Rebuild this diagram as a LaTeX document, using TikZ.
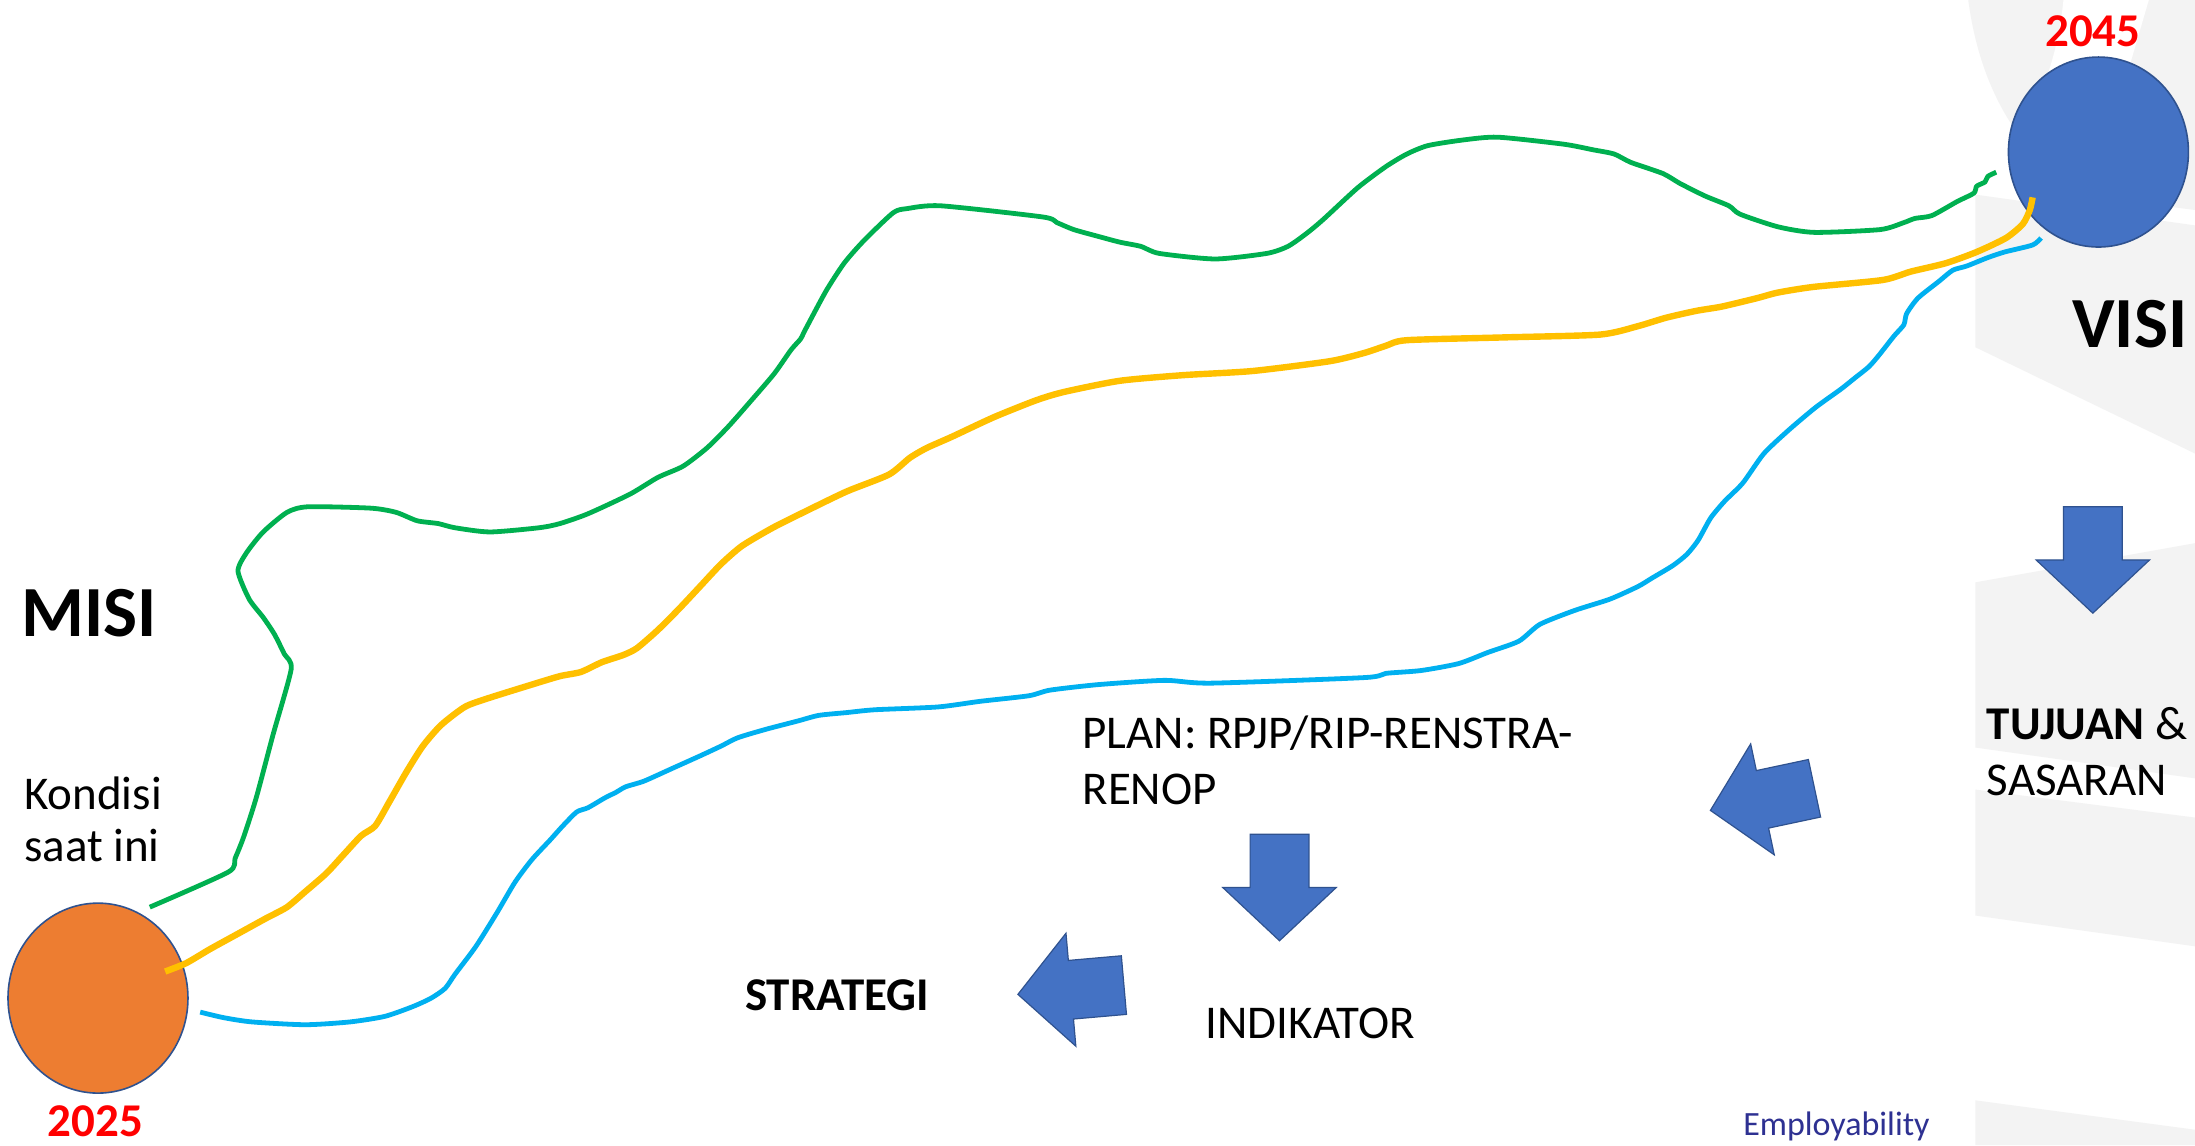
\documentclass[tikz,border=0pt]{standalone}
\usepackage{fontspec}
\setmainfont{Carlito}
\usepackage{tikz}
\usetikzlibrary{shapes.geometric, positioning}
\definecolor{cOrange}{RGB}{237,125,49}
\definecolor{cBlue}{RGB}{68,114,196}
\definecolor{cEdge}{RGB}{47,82,143}
\definecolor{cGreen}{RGB}{0,176,80}
\definecolor{cYellow}{RGB}{255,192,0}
\definecolor{cCyan}{RGB}{0,176,240}
\definecolor{cRed}{RGB}{255,0,0}
\definecolor{cShade}{RGB}{243,243,243}
\definecolor{cNavy}{RGB}{46,49,146}
\tikzset{
	yearnode/.style={ellipse, draw=cEdge, line width=0.8pt, minimum width=90pt, minimum height=95pt, inner sep=0pt},
	yeartxt/.style={anchor=base, inner sep=0pt, text=cRed, font=\fontsize{23.5pt}{28pt}\selectfont\bfseries},
	bigtxt/.style={anchor=base west, inner sep=0pt, font=\fontsize{36pt}{40pt}\selectfont\bfseries},
	lbl/.style={anchor=base west, inner sep=0pt, font=\fontsize{23.5pt}{28pt}\selectfont},
	blkarrow/.style={fill=cBlue, draw=cEdge, line width=0.6pt},
	% hand-drawn paths
	wavy/.style={line join=round, line width=2.4pt, smooth, tension=0.4},
}

\begin{document}
\begin{tikzpicture}[x=0.7pt, y=-0.7pt]
	\useasboundingbox (0,0) rectangle (1568,818);
	\clip (0,0) rectangle (1568,818);
	\fill[white] (0,0) rectangle (1568,818);
	% faint logo in the background
	\fill[cShade] (1406,0) .. controls (1414,60) and (1440,110) .. (1490,140) -- (1568,150) -- (1568,0) -- cycle;
	\fill[white] (1474,0) .. controls (1470,40) and (1458,70) .. (1444,95) -- (1500,120) -- (1535,0) -- cycle;
	\fill[cShade] (1411,139) -- (1568,161) -- (1568,324) -- (1411,248) -- cycle;
	\fill[cShade] (1411,416) -- (1568,388) -- (1568,556) -- (1411,534) -- cycle;
	\fill[cShade] (1411,564) -- (1568,584) -- (1568,676) -- (1411,654) -- cycle;
	\fill[cShade] (1411,786) -- (1568,807) -- (1568,818) -- (1411,818) -- cycle;

	\node[yearnode, fill=cOrange] (now) at (70,713) {};
	\node[yearnode, fill=cBlue] (goal) at (1499,108.6) {};

	\draw[wavy, cGreen] plot coordinates {(107,648) (163,623) (168,613) (174,598) (183,570) (195,525) (208,478) (203,467) (196,453) (188,441) (178,428) (170,408) (176,395) (188,380) (205,366) (220,362) (265,363) (283,366) (298,372) (313,374) (325,377) (350,380) (385,377) (400,374) (420,367) (450,353) (470,341) (488,333) (505,320) (520,305) (535,288) (553,267) (565,250) (572,242) (575,236) (590,208) (603,188) (617,172) (638,152) (648,149) (672,147) (745,155) (755,159) (767,164) (785,169) (800,173) (815,176) (828,181) (868,185) (905,181) (920,176) (933,167) (945,157) (970,134) (990,119) (1005,110) (1020,104) (1045,100) (1070,98) (1117,103) (1138,107) (1153,110) (1165,116) (1188,124) (1200,131) (1218,140) (1235,147) (1243,153) (1270,162) (1296,166) (1343,164) (1360,159) (1368,156) (1380,154) (1398,144) (1410,138) (1412,133) (1418,130) (1420,126) (1426,123)};
	\draw[wavy, cYellow, line width=3.2pt] plot coordinates {(118,694) (133,688) (150,678) (170,667) (190,656) (205,648) (218,637) (233,624) (245,611) (258,597) (268,590) (278,573) (290,552) (302,533) (315,518) (332,505) (348,499) (380,489) (400,483) (415,480) (430,473) (445,468) (455,463) (470,450) (485,435) (500,419) (515,403) (530,390) (552,377) (578,364) (605,351) (635,339) (650,327) (662,320) (680,312) (710,298) (740,286) (760,280) (800,272) (845,268) (895,265) (950,258) (975,252) (990,247) (1005,243) (1075,241) (1143,239) (1170,233) (1190,227) (1212,222) (1230,219) (1255,213) (1270,209) (1295,205) (1345,200) (1365,194) (1390,188) (1412,180) (1433,170) (1445,160) (1450,150) (1452,141)};
	\draw[wavy, cCyan] plot coordinates {(143,723) (160,727) (180,730) (218,732) (250,730) (275,726) (295,719) (308,713) (318,706) (325,696) (340,676) (355,652) (368,630) (380,614) (393,600) (402,590) (412,580) (420,577) (432,570) (440,566) (447,562) (460,558) (480,549) (500,540) (515,533) (527,527) (547,521) (570,515) (585,511) (605,509) (625,507) (670,505) (700,501) (735,497) (750,493) (785,489) (832,486) (865,488) (975,484) (990,481) (1015,479) (1042,474) (1063,466) (1085,458) (1100,446) (1125,436) (1150,428) (1170,419) (1180,413) (1195,404) (1205,396) (1213,386) (1222,370) (1232,358) (1245,345) (1260,324) (1278,307) (1297,291) (1315,278) (1325,270) (1335,262) (1342,254) (1353,240) (1360,232) (1362,224) (1370,213) (1385,201) (1395,193) (1405,190) (1420,184) (1432,180) (1452,175) (1458,170)};

	\foreach \ax/\ay/\ang in {1495/400/90, 914/634/90, 1259/571/12, 765/707/5}
		\draw[blkarrow, shift={(\ax,\ay)}, rotate=\ang] (-38,0) -- (0,-40.5) -- (0,-21) -- (38,-21) -- (38,21) -- (0,21) -- (0,40.5) -- cycle;

	\node[yeartxt] (y45) at (1495,33) {2045};
	\node[yeartxt] (y25) at (68,812) {2025};
	\node[bigtxt] (misi) at (15,455) {MISI};
	\node[bigtxt] (visi) at (1480,248) {VISI};
	\node[lbl] (kondisi) at (17,578) {Kondisi};
	\node[lbl, below=26pt of kondisi.base west, anchor=base west] (saat) {saat ini};
	\node[lbl] (tujuan) at (1419,528) {\textbf{TUJUAN} \&};
	\node[lbl, below=28pt of tujuan.base west, anchor=base west] (sasaran) {SASARAN};
	\node[lbl] (plan) at (773,535) {PLAN: RPJP/RIP-RENSTRA-};
	\node[lbl, below=28pt of plan.base west, anchor=base west] (renop) {RENOP};
	\node[lbl, font=\fontsize{23.5pt}{28pt}\selectfont\bfseries] (strategi) at (532,722) {STRATEGI};
	\node[lbl] (indikator) at (861,742) {INDIKATOR};
	\node[lbl, text=cNavy, font=\fontsize{17pt}{20pt}\selectfont] (brand) at (1245,811) {Employability};
\end{tikzpicture}
\end{document}
